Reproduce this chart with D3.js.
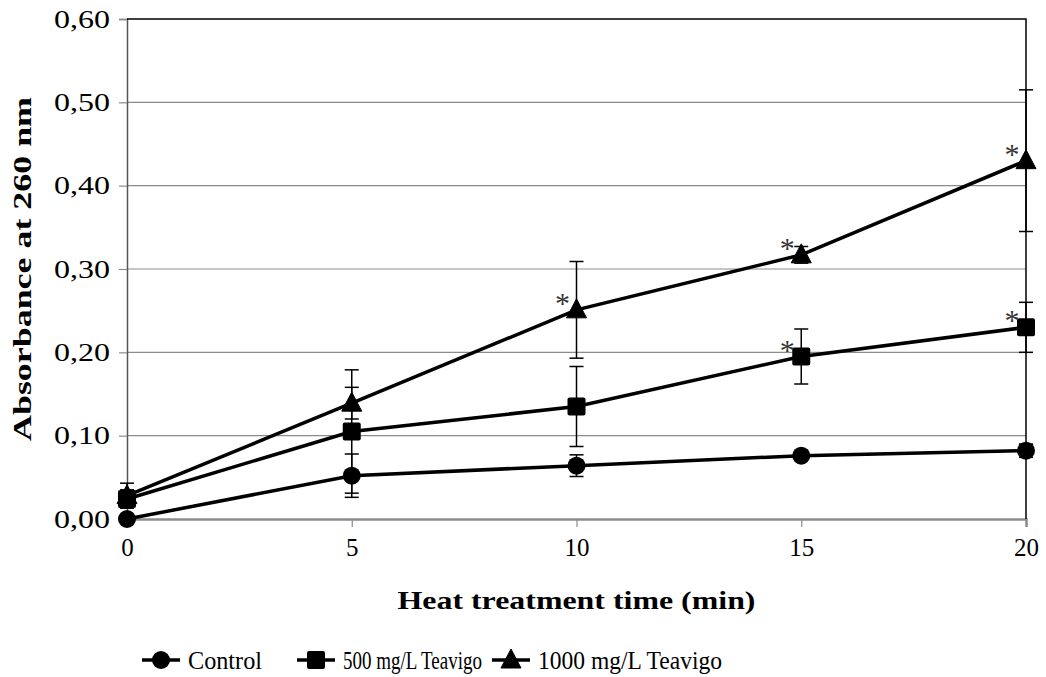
<!DOCTYPE html>
<html><head><meta charset="utf-8"><script src="https://cdn.jsdelivr.net/npm/d3@7"></script></head>
<body style="margin:0">
<svg id="s" width="1046" height="677" style="font-family: 'Liberation Serif', serif"></svg>
<script>
// Heat treatment time (min)
const times = [0, 5, 10, 15, 20];
// Absorbance at 260 nm, mean values
const control = [0.000, 0.052, 0.064, 0.076, 0.082];
const teavigo500 = [0.024, 0.105, 0.135, 0.195, 0.230];
const teavigo1000 = [0.028, 0.139, 0.251, 0.317, 0.430];
// Standard deviations
const controlErr = [0.000, 0.026, 0.013, 0.000, 0.008];
const teavigo500Err = [0.011, 0.074, 0.048, 0.033, 0.030];
const teavigo1000Err = [0.015, 0.019, 0.058, 0.010, 0.085];
// Significance markers (*) per series
const controlSig = [false, false, false, false, false];
const teavigo500Sig = [false, false, false, true, true];
const teavigo1000Sig = [false, false, true, true, true];

const yTicks = [0, 0.1, 0.2, 0.3, 0.4, 0.5, 0.6];
const xTicks = [0, 5, 10, 15, 20];

const seriesNames = ["Control", "500 mg/L Teavigo", "1000 mg/L Teavigo"];
const seriesShapes = ["circle", "square", "triangle"];

const series = [
  { name: seriesNames[0], shape: seriesShapes[0], values: control, err: controlErr, sig: controlSig },
  { name: seriesNames[1], shape: seriesShapes[1], values: teavigo500, err: teavigo500Err, sig: teavigo500Sig },
  { name: seriesNames[2], shape: seriesShapes[2], values: teavigo1000, err: teavigo1000Err, sig: teavigo1000Sig }
];

const svg = d3.select("#s");
const plotLeft = 127, plotRight = 1026, plotTop = 19, plotBottom = 519;

const x = d3.scaleLinear().domain([0, 20]).range([plotLeft, plotRight]);
const y = d3.scaleLinear().domain([0, 0.6]).range([plotBottom, plotTop]);
const fmt = v => d3.format(".2f")(v).replace(".", ",");

// Text helper: serif face, explicit size, optional fixed run length
function serifText(sel, size, bold, len) {
  sel.style("font-family", "Liberation Serif")
    .attr("font-size", size)
    .style("font-weight", bold ? "bold" : "normal");
  if (len) sel.attr("textLength", len).attr("lengthAdjust", "spacingAndGlyphs");
  return sel;
}

// Horizontal gridlines
svg.append("g")
  .selectAll("line")
  .data(yTicks.filter(v => v > 0 && v < 0.6))
  .join("line")
  .attr("x1", plotLeft).attr("x2", plotRight)
  .attr("y1", d => y(d)).attr("y2", d => y(d))
  .attr("stroke", "#8c8c8c").attr("stroke-width", 1.2);

// Y axis
const yAxis = svg.append("g")
  .attr("transform", `translate(${plotLeft},0)`)
  .call(d3.axisLeft(y).tickValues(yTicks).tickFormat(fmt).tickSize(8).tickPadding(9));
yAxis.attr("font-family", null).attr("font-size", null);
yAxis.select(".domain").attr("stroke", "#555").attr("stroke-width", 1.5);
yAxis.selectAll(".tick line").attr("stroke", "#8c8c8c").attr("stroke-width", 1.2);
serifText(yAxis.selectAll(".tick text"), 25, false, 56).attr("fill", "#000");

// X axis
const xAxis = svg.append("g")
  .attr("transform", `translate(0,${plotBottom})`)
  .call(d3.axisBottom(x).tickValues(xTicks).tickFormat(d3.format("d")).tickSize(8).tickPadding(11));
xAxis.attr("font-family", null).attr("font-size", null);
xAxis.select(".domain").attr("stroke", "#8c8c8c").attr("stroke-width", 2.5);
xAxis.selectAll(".tick line").attr("stroke", "#8c8c8c").attr("stroke-width", 1.2);
serifText(xAxis.selectAll(".tick text"), 25, false).attr("fill", "#000");

// Top and right frame
svg.append("path")
  .attr("d", `M${plotLeft},${plotTop}H${plotRight}V${plotBottom}`)
  .attr("fill", "none").attr("stroke", "#000").attr("stroke-width", 1.5);

// Axis titles
serifText(svg.append("text"), 25, true, 358)
  .attr("x", (plotLeft + plotRight) / 2).attr("y", 609)
  .attr("text-anchor", "middle")
  .text("Heat treatment time (min)");

serifText(svg.append("text"), 25, true, 344)
  .attr("transform", `translate(31,${(plotTop + plotBottom) / 2}) rotate(-90)`)
  .attr("text-anchor", "middle")
  .text("Absorbance at 260 nm");

// Marker drawing
function drawMarker(g, shape, cx, cy) {
  if (shape === "circle") {
    g.append("circle").attr("cx", cx).attr("cy", cy).attr("r", 9).attr("fill", "#000");
  } else if (shape === "square") {
    g.append("rect").attr("x", cx - 9).attr("y", cy - 9).attr("width", 18).attr("height", 18)
      .attr("rx", 2).attr("fill", "#000");
  } else {
    g.append("path")
      .attr("d", `M${cx},${cy - 11}L${cx + 10},${cy + 8}L${cx - 10},${cy + 8}Z`)
      .attr("fill", "#000").attr("stroke", "#000").attr("stroke-width", 1).attr("stroke-linejoin", "round");
  }
}

const line = d3.line().x((d, i) => x(times[i])).y(d => y(d));

// Error bars
const errG = svg.append("g");
series.forEach(s => {
  s.values.forEach((v, i) => {
    const e = s.err[i];
    if (!e) return;
    const cx = x(times[i]);
    errG.append("line").attr("x1", cx).attr("x2", cx)
      .attr("y1", y(v - e)).attr("y2", y(v + e))
      .attr("stroke", "#000").attr("stroke-width", 1.5);
    [v - e, v + e].forEach(b => {
      errG.append("line").attr("x1", cx - 7).attr("x2", cx + 7)
        .attr("y1", y(b)).attr("y2", y(b))
        .attr("stroke", "#000").attr("stroke-width", 1.5);
    });
  });
});

// Series lines, markers and significance asterisks
series.forEach(s => {
  svg.append("path").datum(s.values)
    .attr("d", line).attr("fill", "none")
    .attr("stroke", "#000").attr("stroke-width", 3.5);
  const mg = svg.append("g");
  s.values.forEach((v, i) => drawMarker(mg, s.shape, x(times[i]), y(v)));
  s.values.forEach((v, i) => {
    if (!s.sig[i]) return;
    serifText(svg.append("text"), 30, false)
      .attr("x", x(times[i]) - 14).attr("y", y(v) + 3)
      .attr("text-anchor", "middle")
      .attr("fill", "#333")
      .text("*");
  });
});

// Legend
const legendX = [142, 297, 492];
const legendLen = [74, 139, 184];
const legend = svg.append("g");
series.forEach((s, i) => {
  const lx = legendX[i], ly = 660;
  legend.append("line").attr("x1", lx).attr("x2", lx + 38)
    .attr("y1", ly).attr("y2", ly).attr("stroke", "#000").attr("stroke-width", 3.5);
  drawMarker(legend, s.shape, lx + 19, ly);
  serifText(legend.append("text"), 25, false, legendLen[i])
    .attr("x", lx + 46).attr("y", ly + 9)
    .text(s.name);
});
</script>
</body>
</html>
